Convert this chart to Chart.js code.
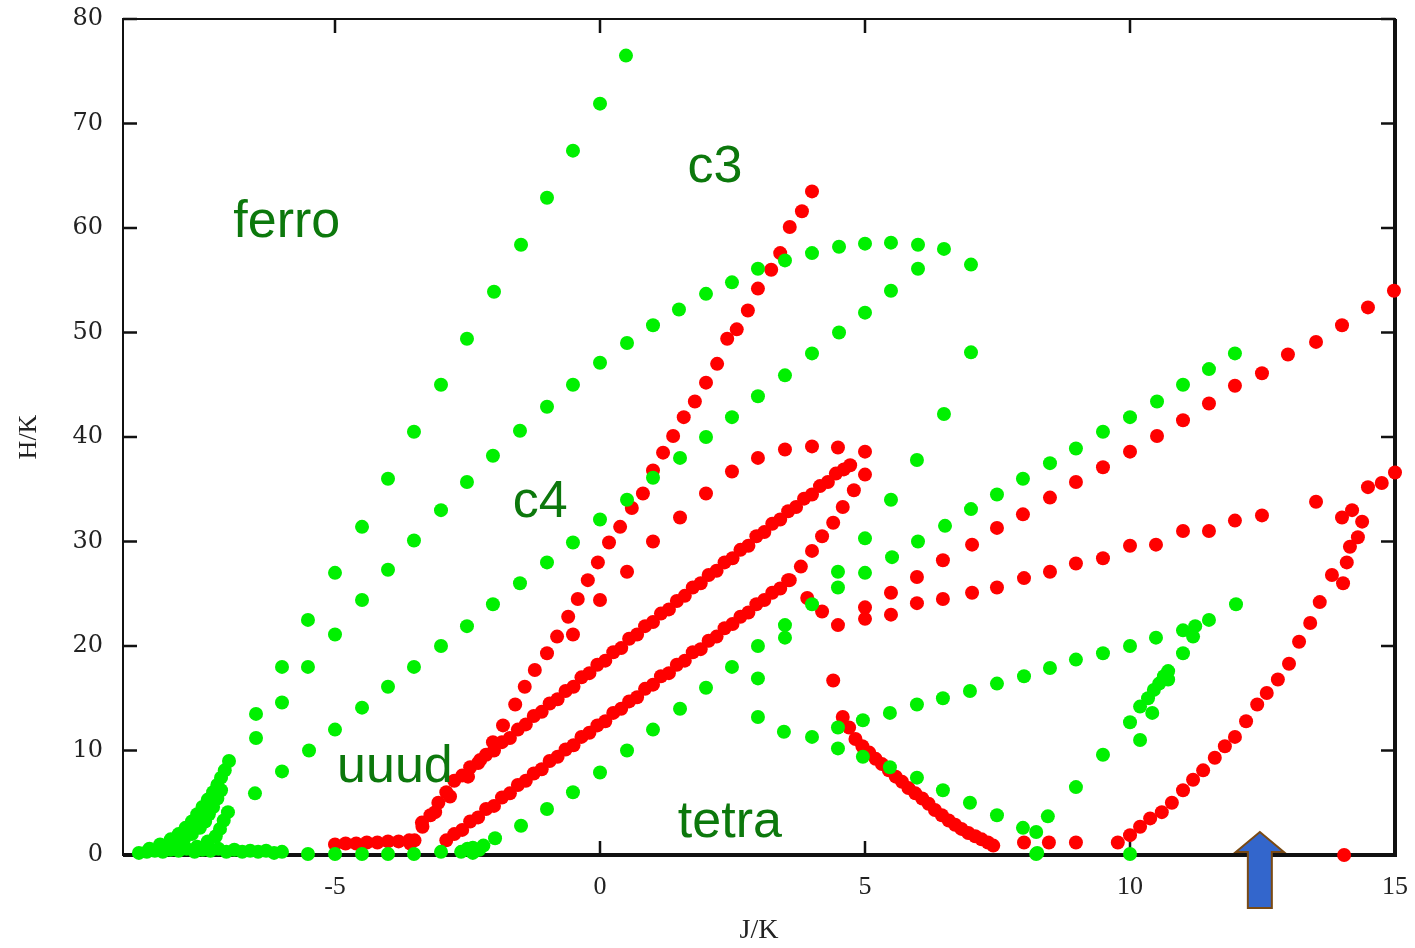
<!DOCTYPE html>
<html>
<head>
<meta charset="utf-8">
<title>H/K vs J/K</title>
<script src="https://cdn.jsdelivr.net/npm/chart.js@4.4.1/dist/chart.umd.min.js"></script>
<style>
  html, body { margin: 0; padding: 0; background: #fff; }
  canvas { display: block; }
</style>
</head>
<body>
<canvas id="phaseChart" width="1415" height="948"></canvas>
<script>
// Axis ticks
const xTickValues = [-5, 0, 5, 10, 15];
const yTickValues = [0, 10, 20, 30, 40, 50, 60, 70, 80];

// Green branches, [J, H] pairs
const greenFerro = [[0.49,76.5],[0,71.9],[-0.51,67.4],[-1.0,62.9],[-1.49,58.4],[-2.0,53.9],[-2.51,49.4],[-3.0,45.0],[-3.51,40.5],[-4.0,36.0],[-4.49,31.4],[-5.0,27.0],[-5.51,22.5],[-6.0,18.0],[-6.49,13.5],[-7.0,9.0]];
const greenOuter = [[-6.49,11.2],[-6.0,14.6],[-5.51,18.0],[-5.0,21.1],[-4.49,24.4],[-4.0,27.3],[-3.51,30.1],[-3.0,33.0],[-2.51,35.7],[-2.02,38.2],[-1.51,40.6],[-1.0,42.9],[-0.51,45.0],[0,47.1],[0.51,49.0],[1.0,50.7],[1.49,52.2],[2.0,53.7],[2.49,54.8],[2.98,56.1],[3.49,56.9],[4.0,57.6],[4.51,58.2],[5.0,58.5],[5.49,58.6],[6.0,58.4],[6.49,58.0],[7.0,56.5]];
const greenInner = [[-7.02,4.1],[-6.51,5.9],[-6.0,8.0],[-5.49,10.0],[-5.0,12.0],[-4.49,14.1],[-4.0,16.1],[-3.51,18.0],[-3.0,20.0],[-2.51,21.9],[-2.02,24.0],[-1.51,26.0],[-1.0,28.0],[-0.51,29.9],[0,32.1],[0.51,34.0],[1.0,36.1],[1.51,38.0],[2.0,40.0],[2.49,41.9],[2.98,43.9],[3.49,45.9],[4.0,48.0],[4.51,50.0],[5.0,51.9],[5.49,54.0],[6.0,56.1]];
const greenDrop = [[7.0,48.1],[6.49,42.2],[5.98,37.8],[5.49,34.0],[5.0,30.3],[4.49,27.1],[4.0,24.0],[3.49,22.0],[2.98,20.0],[2.49,18.0],[2.0,16.0],[1.51,14.0],[1.0,12.0],[0.51,10.0],[0,7.9],[-0.51,6.0],[-1.0,4.4],[-1.49,2.8],[-1.98,1.6],[-2.4,0.7]];
const greenHigh = [[4.49,25.6],[5.0,27.0],[5.51,28.5],[6.0,30.0],[6.51,31.5],[7.0,33.1],[7.49,34.5],[7.98,36.0],[8.49,37.5],[8.98,38.9],[9.49,40.5],[10.0,41.9],[10.51,43.4],[11.0,45.0],[11.49,46.5],[11.98,48.0]];
const greenTetra = [[3.49,20.8],[2.98,16.9],[2.98,13.2],[3.47,11.8],[4.0,11.3],[4.49,10.2],[4.96,9.4],[5.47,8.4],[5.98,7.4],[6.47,6.2],[6.98,5.0],[7.49,3.8],[7.98,2.6],[8.25,0.2]];
const greenLow = [[4.49,12.2],[4.96,12.9],[5.47,13.6],[5.98,14.4],[6.47,15.0],[6.98,15.7],[7.49,16.4],[8.0,17.1],[8.49,17.9],[8.98,18.7],[9.49,19.3],[10.0,20.0],[10.49,20.8],[11.0,21.5],[11.49,22.5],[12.0,24.0]];
const greenLoop = [[8.23,2.2],[8.45,3.7],[8.98,6.5],[9.49,9.6],[10.19,11.0],[10.0,12.7],[10.19,14.2],[10.42,13.6],[10.34,15.0],[10.45,15.8],[10.55,16.4],[10.64,17.1],[10.72,17.6],[10.72,16.8],[11.0,19.3],[11.19,20.9],[11.23,21.9]];
const greenBottom = [[-5.51,0.1],[-5.0,0.1],[-4.49,0.1],[-4.0,0.1],[-3.51,0.1],[-3.0,0.3],[-2.62,0.3],[-2.5,0.6],[-2.4,0.2],[-2.28,0.5],[-2.2,0.9],[8.23,0.1],[10.0,0.1]];
const greenCluster = [
  [-8.7,0.2],[-8.5,0.6],[-8.3,1.0],[-8.1,1.5],[-7.95,2.0],[-7.82,2.6],[-7.7,3.2],[-7.6,3.9],[-7.5,4.6],[-7.4,5.3],[-7.3,6.0],[-7.22,6.7],[-7.15,7.4],[-7.08,8.1],
  [-8.2,0.8],[-8.0,1.1],[-7.85,1.5],[-7.7,2.0],[-7.55,2.6],[-7.45,3.2],[-7.38,3.9],[-7.3,4.6],[-7.22,5.4],[-7.15,6.2],
  [-7.1,3.3],[-7.17,2.5],[-7.25,1.8],[-7.4,1.3],[-7.6,0.8],
  [-8.55,0.3],[-8.4,0.4],[-8.25,0.3],[-8.1,0.5],[-7.95,0.4],[-7.8,0.6],[-7.65,0.3],[-7.5,0.5],[-7.35,0.4],[-7.2,0.6],[-7.05,0.3],[-6.9,0.5],[-6.75,0.3],[-6.6,0.4],[-6.45,0.3],[-6.3,0.4],[-6.15,0.2],[-6.0,0.3]
];

// Red branches, [J, H] pairs
const redC3 = [[4.0,63.5],[3.81,61.6],[3.58,60.1],[3.4,57.6],[3.23,56.0],[2.98,54.2],[2.79,52.1],[2.58,50.3],[2.4,49.4],[2.21,47.0],[2.0,45.2],[1.79,43.4],[1.58,41.9],[1.38,40.1],[1.19,38.5],[1.0,36.8],[0.81,34.6],[0.6,33.2],[0.38,31.4],[0.17,29.9],[-0.04,28.0],[-0.23,26.3],[-0.42,24.5],[-0.6,22.8],[-0.81,20.9],[-1.0,19.3],[-1.23,17.7],[-1.42,16.1],[-1.6,14.4],[-1.83,12.4],[-2.02,10.8],[-2.26,9.1],[-2.49,7.5],[-2.83,5.6],[-3.11,4.1],[-3.36,3.1],[-3.58,1.1]];
const redUuudUpper = [[-3.5,1.4],[-3.35,2.7],[-3.2,3.8],[-3.05,5.0],[-2.9,6.0],[-2.75,7.1],[-2.6,7.6],[-2.45,8.4],[-2.3,8.8],[-2.15,9.6],[-2.0,10.0],[-1.85,10.8],[-1.7,11.2],[-1.55,12.0],[-1.4,12.5],[-1.25,13.3],[-1.1,13.7],[-0.95,14.5],[-0.8,14.9],[-0.65,15.7],[-0.5,16.1],[-0.35,17.0],[-0.2,17.4],[-0.05,18.2],[0.1,18.6],[0.25,19.4],[0.4,19.8],[0.55,20.7],[0.7,21.1],[0.85,21.9],[1.0,22.3],[1.15,23.1],[1.3,23.5],[1.45,24.3],[1.6,24.8],[1.75,25.6],[1.9,26.0],[2.05,26.8],[2.2,27.2],[2.35,28.0],[2.5,28.4],[2.65,29.2],[2.8,29.6],[2.95,30.5],[3.1,30.9],[3.25,31.7],[3.4,32.1],[3.55,32.9],[3.7,33.3],[3.85,34.1],[4.0,34.5],[4.15,35.3],[4.3,35.7],[4.45,36.5],[4.6,36.9],[4.72,37.3]];
const redUuudLower = [[-2.9,1.4],[-2.75,2.0],[-2.6,2.4],[-2.45,3.2],[-2.3,3.6],[-2.15,4.4],[-2.0,4.7],[-1.85,5.5],[-1.7,5.9],[-1.55,6.7],[-1.4,7.1],[-1.25,7.8],[-1.1,8.2],[-0.95,9.0],[-0.8,9.4],[-0.65,10.1],[-0.5,10.5],[-0.35,11.3],[-0.2,11.7],[-0.05,12.4],[0.1,12.8],[0.25,13.6],[0.4,14.0],[0.55,14.7],[0.7,15.1],[0.85,15.9],[1.0,16.3],[1.15,17.1],[1.3,17.4],[1.45,18.2],[1.6,18.6],[1.75,19.4],[1.9,19.7],[2.05,20.5],[2.2,20.9],[2.35,21.7],[2.5,22.1],[2.65,22.8],[2.8,23.2],[2.95,24.0],[3.1,24.4],[3.25,25.1],[3.4,25.5],[3.55,26.3]];
const redFlat = [[-5.0,1.0],[-4.8,1.1],[-4.6,1.1],[-4.4,1.2],[-4.2,1.2],[-4.0,1.3],[-3.8,1.3],[-3.6,1.4]];
const redDome = [[-0.51,21.1],[0,24.4],[0.51,27.1],[1.0,30.0],[1.51,32.3],[2.0,34.6],[2.49,36.7],[2.98,38.0],[3.49,38.8],[4.0,39.1],[4.49,39.0],[5.0,38.6],[5.0,36.4],[4.79,34.9],[4.58,33.3],[4.4,31.8],[4.19,30.5],[4.0,29.1],[3.79,27.6],[3.58,26.3],[3.91,24.6],[4.19,23.3],[4.49,22.0]];
const redTetra = [[4.4,16.7],[4.58,13.2],[4.7,12.2],[4.82,11.1],[4.95,10.4],[5.08,9.8],[5.2,9.2],[5.32,8.7],[5.45,8.1],[5.58,7.5],[5.7,7.0],[5.82,6.4],[5.95,5.9],[6.08,5.4],[6.2,4.9],[6.32,4.3],[6.45,3.8],[6.58,3.3],[6.7,2.9],[6.82,2.5],[6.95,2.1],[7.08,1.8],[7.2,1.5],[7.32,1.2],[7.42,0.9]];
const redHigh = [[5.0,23.7],[5.49,25.1],[5.98,26.6],[6.47,28.2],[7.02,29.7],[7.49,31.3],[7.98,32.6],[8.49,34.2],[8.98,35.7],[9.49,37.1],[10.0,38.6],[10.51,40.1],[11.0,41.6],[11.49,43.2],[11.98,44.9],[12.49,46.1],[12.98,47.9],[13.51,49.1],[14.0,50.7],[14.49,52.4],[14.98,54.0]];
const redMid = [[5.0,22.6],[5.49,23.0],[5.98,24.1],[6.47,24.5],[7.02,25.1],[7.49,25.6],[8.0,26.5],[8.49,27.1],[8.98,27.9],[9.49,28.4],[10.0,29.6],[10.49,29.7],[11.0,31.0],[11.49,31.0],[11.98,32.0],[12.49,32.5],[13.51,33.8]];
const redLoop = [[9.77,1.2],[10.0,1.9],[10.19,2.7],[10.38,3.5],[10.6,4.1],[10.79,5.0],[11.0,6.2],[11.19,7.2],[11.38,8.1],[11.6,9.3],[11.79,10.4],[11.98,11.3],[12.19,12.8],[12.4,14.4],[12.58,15.5],[12.79,16.8],[13.0,18.3],[13.19,20.4],[13.4,22.2],[13.58,24.2],[13.81,26.8],[14.02,26.0],[14.09,28.0],[14.15,29.5],[14.3,30.4],[14.38,31.9],[14.19,33.0],[14.0,32.3],[14.49,35.2],[14.75,35.6],[15.0,36.6]];
const redBottom = [[8.0,1.2],[8.47,1.2],[8.98,1.2],[14.04,0]];

// Region names placed at [J, H] (text centre, baseline)
const regionLabels = [
  { text: 'ferro', at: [-5.91, 59.1] },
  { text: 'c3',    at: [2.17, 64.4] },
  { text: 'c4',    at: [-1.13, 32.3] },
  { text: 'uuud',  at: [-3.87, 7.0] },
  { text: 'tetra', at: [2.45, 1.7] }
];
const arrowJ = 12.45;

const GREEN = '#00f000';
const RED = '#ff0000';

const toPoints = arr => arr.map(([x, y]) => ({ x, y }));

function series(label, arr, color) {
  return {
    label: label,
    data: toPoints(arr),
    backgroundColor: color,
    borderWidth: 0,
    pointRadius: 7,
    pointHoverRadius: 7,
    clip: false
  };
}

// green sits on top, so it goes first
const datasets = [
  series('ferro', greenFerro, GREEN),
  series('outer', greenOuter, GREEN),
  series('inner', greenInner, GREEN),
  series('drop', greenDrop, GREEN),
  series('high', greenHigh, GREEN),
  series('tetra', greenTetra, GREEN),
  series('low', greenLow, GREEN),
  series('loop', greenLoop, GREEN),
  series('bottom', greenBottom, GREEN),
  series('cluster', greenCluster, GREEN),
  series('c3', redC3, RED),
  series('uuud upper', redUuudUpper, RED),
  series('uuud lower', redUuudLower, RED),
  series('flat', redFlat, RED),
  series('dome', redDome, RED),
  series('tetra', redTetra, RED),
  series('high', redHigh, RED),
  series('mid', redMid, RED),
  series('loop', redLoop, RED),
  series('bottom', redBottom, RED)
];

// Box with inward ticks on all four sides
const framePlugin = {
  id: 'frame',
  beforeDatasetsDraw(chart) {
    const { ctx, chartArea: a, scales: { x, y } } = chart;
    ctx.save();
    ctx.strokeStyle = '#111';
    ctx.lineWidth = 2.5;
    ctx.beginPath();
    x.ticks.forEach(t => {
      const px = x.getPixelForValue(t.value);
      ctx.moveTo(px, a.bottom); ctx.lineTo(px, a.bottom - 14);
      ctx.moveTo(px, a.top); ctx.lineTo(px, a.top + 14);
    });
    y.ticks.forEach(t => {
      const py = y.getPixelForValue(t.value);
      ctx.moveTo(a.left, py); ctx.lineTo(a.left + 14, py);
      ctx.moveTo(a.right, py); ctx.lineTo(a.right - 14, py);
    });
    ctx.stroke();
    ctx.lineWidth = 2;
    ctx.strokeRect(a.left, a.top, a.right - a.left, a.bottom - a.top);
    ctx.lineWidth = 4;
    ctx.beginPath();
    ctx.moveTo(a.left, a.bottom);
    ctx.lineTo(a.right, a.bottom);
    ctx.lineTo(a.right, a.top);
    ctx.stroke();
    ctx.restore();
  }
};

// Region names and the marker arrow
const notesPlugin = {
  id: 'notes',
  afterDraw(chart) {
    const { ctx, chartArea: a, scales: { x, y } } = chart;
    ctx.save();
    ctx.font = '52px "Liberation Sans", Arial, sans-serif';
    ctx.fillStyle = '#0c780c';
    ctx.textAlign = 'center';
    ctx.textBaseline = 'alphabetic';
    regionLabels.forEach(l => {
      ctx.fillText(l.text, x.getPixelForValue(l.at[0]), y.getPixelForValue(l.at[1]));
    });

    const cx = x.getPixelForValue(arrowJ);
    const tip = a.bottom - 23;
    const neck = a.bottom - 3;
    const end = a.bottom + 53;
    ctx.beginPath();
    ctx.moveTo(cx, tip);
    ctx.lineTo(cx + 24, neck);
    ctx.lineTo(cx + 12, neck);
    ctx.lineTo(cx + 12, end);
    ctx.lineTo(cx - 12, end);
    ctx.lineTo(cx - 12, neck);
    ctx.lineTo(cx - 24, neck);
    ctx.closePath();
    ctx.fillStyle = '#3366cc';
    ctx.fill();
    ctx.strokeStyle = '#7a4a14';
    ctx.lineWidth = 2;
    ctx.stroke();
    ctx.restore();
  }
};

new Chart(document.getElementById('phaseChart'), {
  type: 'scatter',
  data: { datasets: datasets },
  options: {
    responsive: false,
    animation: false,
    events: [],
    layout: { autoPadding: false, padding: { top: 19, right: 20, left: 0, bottom: 0 } },
    plugins: { legend: { display: false }, tooltip: { enabled: false } },
    scales: {
      x: {
        type: 'linear',
        min: -9,
        max: 15,
        afterBuildTicks: s => { s.ticks = xTickValues.map(v => ({ value: v })); },
        // fixed band under the plot; labels may overhang the ends
        afterFit: s => { s.height = 93; s.paddingLeft = 0; s.paddingRight = 0; },
        grid: { display: false, drawTicks: false },
        border: { display: false },
        ticks: { padding: 17, color: '#222', font: { family: '"Liberation Serif", serif', size: 26 } },
        title: { display: true, text: 'J/K', color: '#222', padding: { top: 0, bottom: 1 },
                 font: { family: '"Liberation Serif", serif', size: 28 } }
      },
      y: {
        type: 'linear',
        min: 0,
        max: 80,
        afterBuildTicks: s => { s.ticks = yTickValues.map(v => ({ value: v })); },
        afterFit: s => { s.width = 123; s.paddingTop = 0; s.paddingBottom = 0; },
        grid: { display: false, drawTicks: false },
        border: { display: false },
        ticks: { padding: 20, color: '#222', font: { family: '"DejaVu Serif", serif', size: 24 } },
        title: { display: true, text: 'H/K', color: '#222', padding: { top: 14, bottom: 0 },
                 font: { family: '"Liberation Serif", serif', size: 26 } }
      }
    }
  },
  plugins: [framePlugin, notesPlugin]
});
</script>
</body>
</html>
